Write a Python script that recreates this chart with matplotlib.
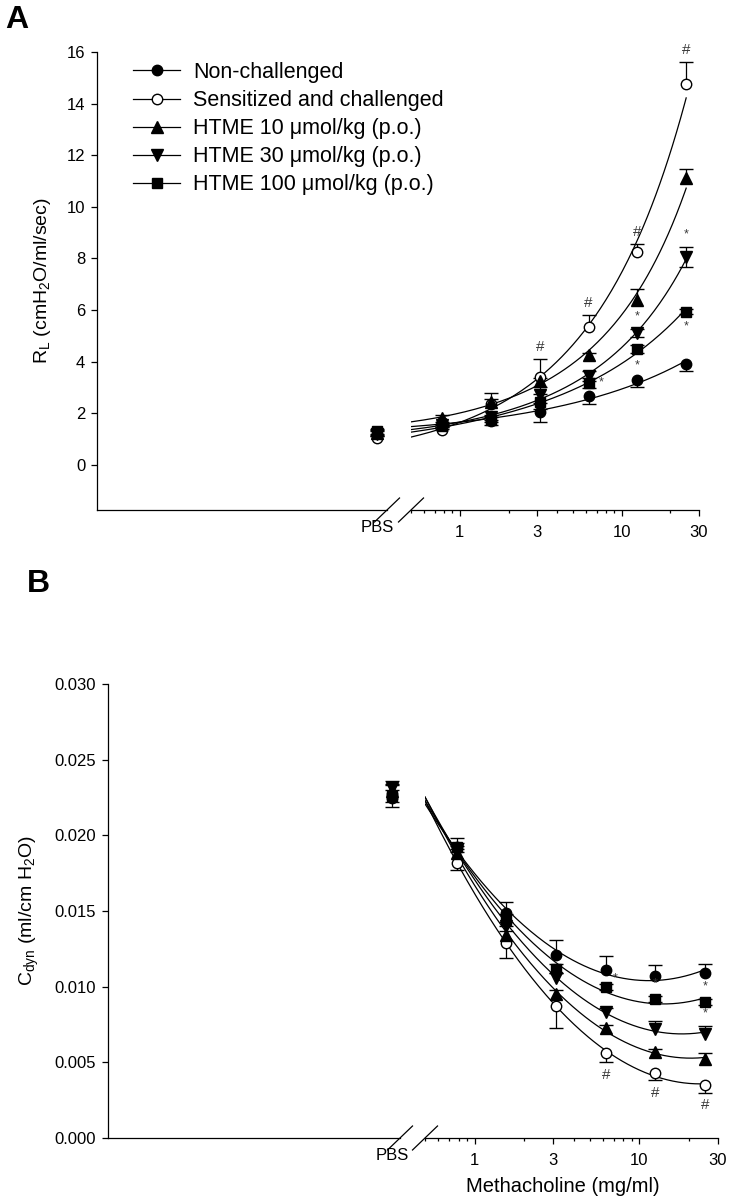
import numpy as np
import matplotlib
matplotlib.use('Agg')
import matplotlib.pyplot as plt
from matplotlib.lines import Line2D

plt.rcParams['font.family'] = ['Liberation Sans', 'DejaVu Sans']
plt.rcParams['mathtext.fontset'] = 'custom'
plt.rcParams['mathtext.rm'] = 'Liberation Sans'
plt.rcParams['mathtext.it'] = 'Liberation Sans:italic'

# methacholine doses (mg/ml); first value in every series is the PBS point
doses = [0.78, 1.56, 3.125, 6.25, 12.5, 25]
xtick_vals = [1, 3, 10, 30]
xtick_labels = ['1', '3', '10', '30']
minor_vals = [0.5, 0.6, 0.7, 0.8, 0.9, 2, 4, 5, 6, 7, 8, 9, 20]

groups = ['Non-challenged', 'Sensitized and challenged',
          'HTME 10 \u03bcmol/kg (p.o.)', 'HTME 30 \u03bcmol/kg (p.o.)',
          'HTME 100 \u03bcmol/kg (p.o.)']

# panel A: lung resistance
rl_non = [1.2, 1.65, 1.7, 2.05, 2.65, 3.3, 3.9]
rl_sens = [1.05, 1.35, 2.35, 3.4, 5.35, 8.25, 14.75]
rl_h10 = [1.25, 1.8, 2.45, 3.25, 4.25, 6.4, 11.1]
rl_h30 = [1.2, 1.55, 1.85, 2.7, 3.45, 5.1, 8.05]
rl_h100 = [1.3, 1.5, 1.75, 2.45, 3.18, 4.5, 5.93]
rl_non_err = [0.1, 0.1, 0.15, 0.4, 0.3, 0.3, 0.25]
rl_sens_err = [0.1, 0.1, 0.2, 0.7, 0.45, 0.3, 0.85]
rl_h10_err = [0.1, 0.15, 0.35, 0.1, 0.1, 0.4, 0.35]
rl_h30_err = [0.1, 0.1, 0.1, 0.3, 0.2, 0.15, 0.4]
rl_h100_err = [0.1, 0.1, 0.1, 0.3, 0.2, 0.15, 0.1]

# panel B: dynamic compliance
cd_non = [0.0225, 0.0192, 0.0149, 0.0121, 0.0111, 0.0107, 0.0109]
cd_sens = [0.0227, 0.0182, 0.0129, 0.0087, 0.0056, 0.0043, 0.0035]
cd_h10 = [0.0229, 0.0188, 0.0134, 0.0095, 0.0073, 0.0057, 0.0052]
cd_h30 = [0.0231, 0.0190, 0.0140, 0.0106, 0.0083, 0.0072, 0.0069]
cd_h100 = [0.0226, 0.0192, 0.0144, 0.0112, 0.0100, 0.0092, 0.0090]
cd_non_err = [0.0008, 0.0006, 0.0007, 0.0010, 0.0009, 0.0007, 0.0006]
cd_sens_err = [0.0008, 0.0005, 0.0010, 0.0014, 0.0006, 0.0005, 0.0005]
cd_h10_err = [0.0005, 0.0003, 0.0003, 0.0003, 0.0002, 0.0002, 0.0004]
cd_h30_err = [0.0005, 0.0003, 0.0003, 0.0003, 0.0003, 0.0005, 0.0005]
cd_h100_err = [0.0004, 0.0003, 0.0004, 0.0003, 0.0002, 0.0002, 0.0002]

# significance marks: (group index, point index, symbol, placement)
marks_a = [(1, 3, '#', 'above'), (1, 4, '#', 'above'), (1, 5, '#', 'above'),
           (1, 6, '#', 'above'), (3, 5, '*', 'above'), (3, 6, '*', 'above'),
           (4, 4, '*', 'right'), (4, 5, '*', 'below'), (4, 6, '*', 'below')]
marks_b = [(1, 4, '#', 'below'), (1, 5, '#', 'below'), (1, 6, '#', 'below'),
           (4, 4, '*', 'upright'), (4, 5, '*', 'above'), (4, 6, '*', 'above'),
           (3, 6, '*', 'above')]

markers = ['o', 'o', '^', 'v', 's']
faces = ['black', 'white', 'black', 'black', 'black']
msizes = [7.5, 7.5, 8, 8, 7.5]
dirs_a = [-1, 1, 1, 0, 0]   # error bar direction: 1 up, -1 down, 0 both
dirs_b = [1, -1, 1, 1, 0]

W, H = 735, 1204
fig = plt.figure(figsize=(W / 100, H / 100), dpi=100)


def px_axes(left, right, top, bottom):
    return fig.add_axes([left / W, 1 - bottom / H, (right - left) / W, (bottom - top) / H])


def slash(ax, xfrac, yfrac):
    # short diagonal break mark, about 26 px wide
    bb = ax.get_position()
    dx = 12.5 / (bb.width * W)
    dy = 12.0 / (bb.height * H)
    ax.plot([xfrac - dx, xfrac + dx], [yfrac - dy, yfrac + dy], color='black',
            lw=0.9, transform=ax.transAxes, clip_on=False)


def draw_panel(axL, axR, series, errs, dirs, marks, ylim, yticks, yfmt, ylabel, pbs_lim,
               logy_fit, capscale=10):
    for ax in (axL, axR):
        ax.set_ylim(*ylim)
        ax.spines['top'].set_visible(False)
        ax.spines['right'].set_visible(False)
        for s in ax.spines.values():
            s.set_linewidth(0.9)
    axR.spines['left'].set_visible(False)
    axR.tick_params(axis='y', left=False, labelleft=False)

    axL.set_xlim(*pbs_lim)
    axL.set_xticks([0])
    axL.set_xticklabels(['PBS'])
    axL.tick_params(axis='x', length=0, labelsize=12, pad=7)
    axL.set_yticks(yticks)
    axL.set_yticklabels([yfmt.format(v) for v in yticks])
    axL.tick_params(axis='y', direction='out', length=4.5, width=0.9, labelsize=12, pad=4)
    axL.set_ylabel(ylabel, fontsize=14, labelpad=10)

    axR.set_xscale('log')
    axR.set_xlim(0.5, 30)
    axR.set_xticks(xtick_vals)
    axR.set_xticklabels(xtick_labels)
    axR.set_xticks(minor_vals, minor=True)
    axR.xaxis.set_minor_formatter(matplotlib.ticker.NullFormatter())
    axR.tick_params(axis='x', which='major', direction='out', length=4.5, width=0.9,
                    labelsize=12, pad=6)
    axR.tick_params(axis='x', which='minor', direction='out', length=2.5, width=0.9)

    xs = np.logspace(np.log10(0.5), np.log10(25), 200)
    for i, (vals, err) in enumerate(zip(series, errs)):
        vals = np.asarray(vals, float)
        err = np.asarray(err, float)
        d = dirs[i]
        lo = err if d <= 0 else np.zeros_like(err)
        hi = err if d >= 0 else np.zeros_like(err)

        # smooth fitted curve through the dose points
        if logy_fit:
            coef = np.polyfit(np.log10(doses), np.log10(vals[1:]), 2)
            ys = 10 ** np.polyval(coef, np.log10(xs))
        else:
            coef = np.polyfit(np.log10(doses), vals[1:], 2)
            ys = np.polyval(coef, np.log10(xs))
        axR.plot(xs, ys, color='black', lw=0.9, zorder=1)

        for ax, xv, yv, l, h in ((axL, [0], vals[:1], lo[:1], hi[:1]),
                                 (axR, doses, vals[1:], lo[1:], hi[1:])):
            ax.errorbar(xv, yv, yerr=[l, h], fmt='none', ecolor='black',
                        elinewidth=0.9, capsize=0, zorder=2)
            if d >= 0:
                ax.plot(xv, yv + h, ls='none', marker='_', ms=capscale, mew=1.0,
                        color='black', zorder=2)
            if d <= 0:
                ax.plot(xv, yv - l, ls='none', marker='_', ms=capscale, mew=1.0,
                        color='black', zorder=2)
            ax.plot(xv, yv, ls='none', marker=markers[i], ms=msizes[i],
                    mfc=faces[i], mec='black', mew=1.0, zorder=3, clip_on=False)

    offsets = {'above': (0, 9), 'below': (0, -9), 'right': (9, 0), 'upright': (7, 6)}
    for gi, pi, sym, where in marks:
        vals = series[gi]
        yref = vals[pi]
        d = dirs[gi]
        if where == 'above' and d >= 0:
            yref = vals[pi] + errs[gi][pi]
        if where == 'below' and d <= 0:
            yref = vals[pi] - errs[gi][pi]
        xref = doses[pi - 1]
        axR.annotate(sym, xy=(xref, yref), xytext=offsets[where], textcoords='offset points',
                     ha='center', va='center', fontsize=11 if sym == '#' else 9,
                     color='#3a3a3a', zorder=4)


# panel A
axL = px_axes(97, 387, 52, 510)
axR = px_axes(411, 699, 52, 510)
draw_panel(axL, axR, [rl_non, rl_sens, rl_h10, rl_h30, rl_h100],
           [rl_non_err, rl_sens_err, rl_h10_err, rl_h30_err, rl_h100_err],
           dirs_a, marks_a, (-1.75, 16), list(range(0, 17, 2)), '{:d}',
           r'R$_\mathrm{L}$ (cmH$_2$O/ml/sec)', (-28, 1), True)
slash(axL, 1.0, 0.0)
slash(axR, 0.0, 0.0)

handles = [Line2D([0], [0], color='black', lw=0.9, marker=markers[i], ms=msizes[i],
                  mfc=faces[i], mec='black', mew=1.0) for i in range(len(groups))]
fig.legend(handles, groups, loc='upper left', bbox_to_anchor=(133 / W, 1 - 62 / H),
           frameon=False, fontsize=15.5, handlelength=2.2, handletextpad=0.6,
           labelspacing=0.33, borderpad=0, borderaxespad=0)

# panel B
bxL = px_axes(108, 400, 684, 1138)
bxR = px_axes(425, 718, 684, 1138)
draw_panel(bxL, bxR, [cd_non, cd_sens, cd_h10, cd_h30, cd_h100],
           [cd_non_err, cd_sens_err, cd_h10_err, cd_h30_err, cd_h100_err],
           dirs_b, marks_b, (0, 0.030), [0.0, 0.005, 0.010, 0.015, 0.020, 0.025, 0.030],
           '{:.3f}', r'C$_\mathrm{dyn}$ (ml/cm H$_2$O)', (-35.5, 1), False)
slash(bxL, 1.0, 0.0)
slash(bxR, 0.0, 0.0)
fig.text(563 / W, 1 - 1187 / H, 'Methacholine (mg/ml)', ha='center', va='center', fontsize=14.5)

fig.text(5 / W, 1 - 20 / H, 'A', fontsize=23, fontweight='bold', va='center', ha='left')
fig.text(27 / W, 1 - 584 / H, 'B', fontsize=23, fontweight='bold', va='center', ha='left')

fig.savefig('out.png', dpi=100)
